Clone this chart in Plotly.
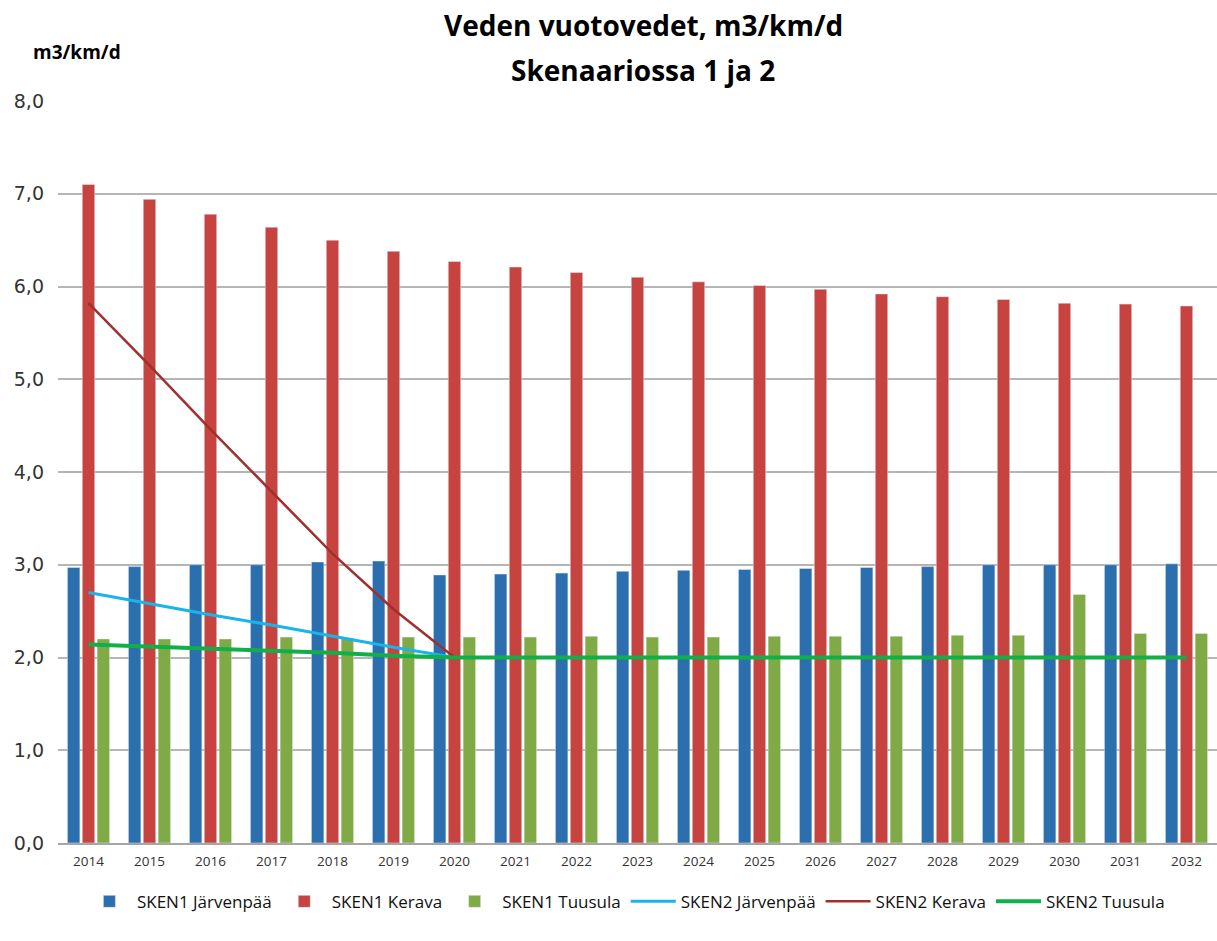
import plotly.graph_objects as go

years = [str(y) for y in range(2014, 2033)]

# Skenaario 1 (pylväät)
sken1_jarvenpaa = [2.97, 2.98, 3.00, 3.00, 3.03, 3.04, 2.89, 2.90, 2.91, 2.93,
                   2.94, 2.95, 2.96, 2.97, 2.98, 3.00, 3.00, 3.00, 3.01]
sken1_kerava = [7.10, 6.94, 6.78, 6.64, 6.50, 6.38, 6.27, 6.21, 6.15, 6.10,
                6.05, 6.01, 5.97, 5.92, 5.89, 5.86, 5.82, 5.81, 5.79]
sken1_tuusula = [2.20, 2.20, 2.20, 2.22, 2.21, 2.22, 2.22, 2.22, 2.23, 2.22,
                 2.22, 2.23, 2.23, 2.23, 2.24, 2.24, 2.68, 2.26, 2.26]

# Skenaario 2 (viivat)
sken2_jarvenpaa = [2.70, 2.58, 2.46, 2.35, 2.23, 2.11, 2.00, 2.00, 2.00, 2.00,
                   2.00, 2.00, 2.00, 2.00, 2.00, 2.00, 2.00, 2.00, 2.00]
sken2_kerava = [5.82, 5.15, 4.46, 3.79, 3.12, 2.52, 2.00, 2.00, 2.00, 2.00,
                2.00, 2.00, 2.00, 2.00, 2.00, 2.00, 2.00, 2.00, 2.00]
sken2_tuusula = [2.14, 2.12, 2.09, 2.07, 2.05, 2.02, 2.00, 2.00, 2.00, 2.00,
                 2.00, 2.00, 2.00, 2.00, 2.00, 2.00, 2.00, 2.00, 2.00]

title_lines = ["Veden vuotovedet, m3/km/d", "Skenaariossa 1 ja 2"]
unit_label = "m3/km/d"

fig = go.Figure()
fig.add_bar(x=years, y=sken1_jarvenpaa, name="SKEN1 Järvenpää", marker_color="#2b6fae")
fig.add_bar(x=years, y=sken1_kerava, name="SKEN1 Kerava", marker_color="#c64340")
fig.add_bar(x=years, y=sken1_tuusula, name="SKEN1 Tuusula", marker_color="#80aa45")
fig.add_scatter(x=years, y=sken2_jarvenpaa, name="SKEN2 Järvenpää", mode="lines",
                line=dict(color="#18b4ea", width=3))
fig.add_scatter(x=years, y=sken2_kerava, name="SKEN2 Kerava", mode="lines",
                line=dict(color="#a0302e", width=2.5))
fig.add_scatter(x=years, y=sken2_tuusula, name="SKEN2 Tuusula", mode="lines",
                line=dict(color="#10b048", width=4))

title_font = dict(family="Open Sans", size=28, color="#000000")
annotations = [
    dict(text=f"<b>{title_lines[0]}</b>", xref="paper", yref="paper",
         x=0.505, xanchor="center", yanchor="middle", showarrow=False,
         font=title_font),
    dict(text=f"<b>{title_lines[1]}</b>", xref="paper", yref="paper",
         x=0.505, xanchor="center", yanchor="middle", showarrow=False,
         font=title_font),
    dict(text=f"<b>{unit_label}</b>", xref="paper", yref="paper",
         xanchor="center", yanchor="middle", showarrow=False,
         font=dict(family="Open Sans", size=19, color="#000000")),
]
# Paper coordinates relative to the plot area (y: 101..843 px, x: 58..1217 px)
plot_top, plot_bottom = 101, 843
for a, ypx in zip(annotations, [25, 70, 52]):
    a["y"] = (plot_bottom - ypx) / (plot_bottom - plot_top)
annotations[2]["x"] = (77 - 58) / (1217 - 58)

fig.update_layout(
    width=1217, height=941,
    paper_bgcolor="white", plot_bgcolor="white",
    margin=dict(l=58, r=0, t=101, b=98),
    separators=", ",
    barmode="group", bargap=0.27, bargroupgap=0.16,
    legend=dict(
        orientation="h", x=0.49, xanchor="center", y=-0.055, yanchor="top",
        font=dict(family="Open Sans", size=17, color="#111111"),
        traceorder="normal", itemwidth=45,
    ),
    annotations=annotations,
)
fig.update_xaxes(
    type="category", showgrid=False, showline=True, linecolor="#a6a6a6", linewidth=2,
    ticks="", tickfont=dict(family="Open Sans", size=13.5, color="#333333"),
    ticklabelstandoff=5,
)
fig.update_yaxes(
    range=[0, 8], dtick=1, tickformat=".1f", showgrid=True, gridcolor="#b5b5b5",
    gridwidth=1.5, zeroline=False, showline=False,
    tickfont=dict(family="DejaVu Sans", size=19, color="#333333"),
    ticklabelstandoff=13,
)

fig.write_html("out.html")
